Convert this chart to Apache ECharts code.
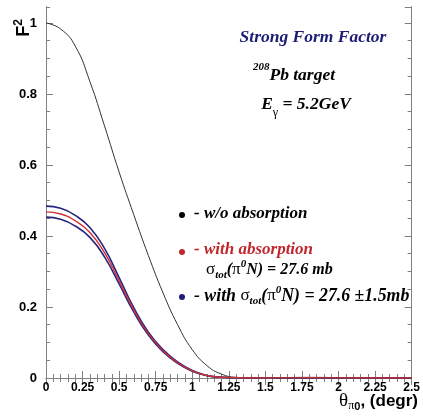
<!DOCTYPE html>
<html><head><meta charset="utf-8">
<script src="https://cdn.jsdelivr.net/npm/echarts@6/dist/echarts.min.js"></script>
<style>html,body{margin:0;padding:0;background:#fff}#c{width:423px;height:416px}</style>
</head><body><div id="c"></div>
<script>
// Data
const theta = [0, 0.1, 0.2, 0.3, 0.4, 0.5, 0.6, 0.7, 0.8, 0.9, 1.0, 1.1, 1.2, 1.3, 1.4, 1.6, 1.8, 2.0, 2.2, 2.5];
const noAbsorption = [1.0, 0.983, 0.935, 0.835, 0.71, 0.58, 0.46, 0.345, 0.24, 0.15, 0.08, 0.035, 0.011, 0.002, 0.0003, 0.0012, 0.0018, 0.0012, 0.0004, 0.0001];
const withAbsorption = [0.468, 0.462, 0.443, 0.41, 0.353, 0.274, 0.192, 0.125, 0.077, 0.043, 0.02, 0.007, 0.002, 0.0005, 0.0001, 0.0003, 0.0005, 0.0003, 0.0001, 0];
const sigmaPlus = [0.484, 0.478, 0.458, 0.424, 0.365, 0.283, 0.198, 0.129, 0.080, 0.045, 0.021, 0.0073, 0.0021, 0.0005, 0.0001, 0.0003, 0.0005, 0.0003, 0.0001, 0];
const sigmaMinus = [0.453, 0.447, 0.428, 0.396, 0.341, 0.265, 0.186, 0.121, 0.074, 0.041, 0.019, 0.0067, 0.0019, 0.0005, 0.0001, 0.0003, 0.0005, 0.0003, 0.0001, 0];
const xTicks = ['0', '0.25', '0.5', '0.75', '1', '1.25', '1.5', '1.75', '2', '2.25', '2.5'];
const yTicks = ['0', '0.2', '0.4', '0.6', '0.8', '1'];

const pairs = arr => theta.map((t, i) => [t, arr[i]]);
const chart = echarts.init(document.getElementById('c'), null, {renderer: 'canvas'});
const frameColor = '#808080';
const lbl = {fontFamily: 'Liberation Sans', fontWeight: 'bold', fontSize: 12, color: '#000'};
const yMax = 1.045;
const yAxisBase = (pos, major, labels) => ({
  type: 'value', min: 0, max: yMax, position: pos, interval: major ? 0.2 : 0.05,
  axisLine: {show: true, lineStyle: {color: frameColor, width: 1}},
  axisTick: {show: true, inside: true, length: major ? 7 : 4, lineStyle: {color: frameColor}},
  axisLabel: labels ? Object.assign({show: true, margin: 9, showMaxLabel: false,
    formatter: v => { const i = Math.round(v / 0.2); return Math.abs(v - i * 0.2) < 1e-6 ? yTicks[i] : ''; }}, lbl, {fontSize: 13}) : {show: false},
  splitLine: {show: false}
});
const xAxisBase = (pos, labels) => ({
  type: 'value', min: 0, max: 2.5, interval: 0.25, position: pos,
  axisLine: {show: true, lineStyle: {color: frameColor, width: 1}},
  axisTick: {show: true, inside: true, length: 7, lineStyle: {color: frameColor}},
  minorTick: {show: true, inside: true, splitNumber: 5, length: 4, lineStyle: {color: frameColor}},
  axisLabel: labels ? Object.assign({show: true, margin: 4,
    formatter: v => xTicks[Math.round(v / 0.25)]}, lbl) : {show: false},
  splitLine: {show: false}, minorSplitLine: {show: false}
});
const serif = 'Liberation Serif';
const navy = '#1c1c72';
const red = '#c0272d';
const it = (size, color, extra) => Object.assign({fontFamily: serif, fontStyle: 'italic', fontWeight: 'bold', fontSize: size, color: color}, extra || {});
const up = (size, color, extra) => Object.assign({fontFamily: serif, fontStyle: 'normal', fontWeight: 'normal', fontSize: size, color: color}, extra || {});
const sigmaRich = (color, main) => ({
  g: up(17, color, {lineHeight: 22, verticalAlign: 'middle'}),
  s: it(11, color, {verticalAlign: 'bottom', lineHeight: 22}),
  u: it(11, color, {verticalAlign: 'top', lineHeight: 22}),
  m: it(main, color, {lineHeight: 22, verticalAlign: 'middle'})
});
const lineSeries = (arr, color, width, z) => ({type: 'line', data: pairs(arr), smooth: 0.5, showSymbol: false,
  lineStyle: {color: color, width: width}, z: z});

chart.setOption({
  animation: false,
  grid: {left: 46, right: 6, top: 7, bottom: 38, show: false},
  xAxis: [xAxisBase('bottom', true), xAxisBase('top', false)],
  yAxis: [yAxisBase('left', true, true), yAxisBase('left', false, false), yAxisBase('right', true, false), yAxisBase('right', false, false)],
  series: [
    lineSeries(noAbsorption, '#333', 1, 3),
    lineSeries(sigmaPlus, '#25257f', 1.6, 2),
    lineSeries(sigmaMinus, '#25257f', 1.6, 2),
    lineSeries(withAbsorption, '#d03035', 1.4, 4)
  ],
  graphic: [
    {type: 'text', x: 23, y: 28, rotation: Math.PI / 2, style: {text: '{f|F}{s|2}', align: 'center', verticalAlign: 'middle',
      rich: {f: {fontFamily: 'Liberation Sans', fontWeight: 'bold', fontSize: 18, color: '#000', verticalAlign: 'bottom', lineHeight: 20},
             s: {fontFamily: 'Liberation Sans', fontWeight: 'bold', fontSize: 12, color: '#000', verticalAlign: 'top', lineHeight: 20}}}},
    {type: 'text', x: 418, y: 401, style: {text: '{t|θ}{p|π}{z|0}{r|, (degr)}', align: 'right', verticalAlign: 'middle',
      rich: {t: {fontFamily: serif, fontSize: 19, color: '#000', lineHeight: 22, verticalAlign: 'middle'},
             p: {fontFamily: serif, fontSize: 12, color: '#000', lineHeight: 22, verticalAlign: 'bottom'},
             z: {fontFamily: 'Liberation Sans', fontWeight: 'bold', fontSize: 11, color: '#000', lineHeight: 22, verticalAlign: 'bottom'},
             r: {fontFamily: 'Liberation Sans', fontWeight: 'bold', fontSize: 17, color: '#000', lineHeight: 22, verticalAlign: 'middle'}}}},
    {type: 'text', x: 313, y: 37, style: {text: 'Strong Form Factor', align: 'center', verticalAlign: 'middle', font: 'italic bold 17.5px "Liberation Serif"', fill: navy}},
    {type: 'text', x: 294, y: 73, style: {text: '{s|208}{m|Pb target}', align: 'center', verticalAlign: 'middle',
      rich: {s: it(11, navy, {verticalAlign: 'top', lineHeight: 22}), m: it(17.5, navy, {verticalAlign: 'bottom', lineHeight: 22})}}},
    {type: 'text', x: 306, y: 107, style: {text: '{m|E}{g|γ}{m| = 5.2GeV}', align: 'center', verticalAlign: 'middle',
      rich: {m: it(17.5, navy, {verticalAlign: 'top', lineHeight: 24}), g: up(12, navy, {verticalAlign: 'bottom', lineHeight: 24})}}},
    {type: 'circle', shape: {cx: 182, cy: 215, r: 3}, style: {fill: '#000'}},
    {type: 'text', x: 194, y: 214, style: {text: '- w/o absorption', align: 'left', verticalAlign: 'middle', font: 'italic bold 17px "Liberation Serif"', fill: '#000'}},
    {type: 'circle', shape: {cx: 182, cy: 252, r: 3}, style: {fill: red}},
    {type: 'text', x: 194, y: 250, style: {text: '- with absorption', align: 'left', verticalAlign: 'middle', font: 'italic bold 17px "Liberation Serif"', fill: red}},
    {type: 'text', x: 206, y: 270, style: {text: '{g|σ}{s|tot}{m|(}{g|π}{u|0}{m|N) = 27.6 mb}', align: 'left', verticalAlign: 'middle', rich: sigmaRich(red, 16)}},
    {type: 'circle', shape: {cx: 182, cy: 297, r: 3}, style: {fill: navy}},
    {type: 'text', x: 194, y: 296, style: {text: '{m|- with }{g|σ}{s|tot}{m|(}{g|π}{u|0}{m|N) = 27.6 ±1.5mb}', align: 'left', verticalAlign: 'middle', rich: sigmaRich(navy, 17.8)}}
  ]
});
</script></body></html>
